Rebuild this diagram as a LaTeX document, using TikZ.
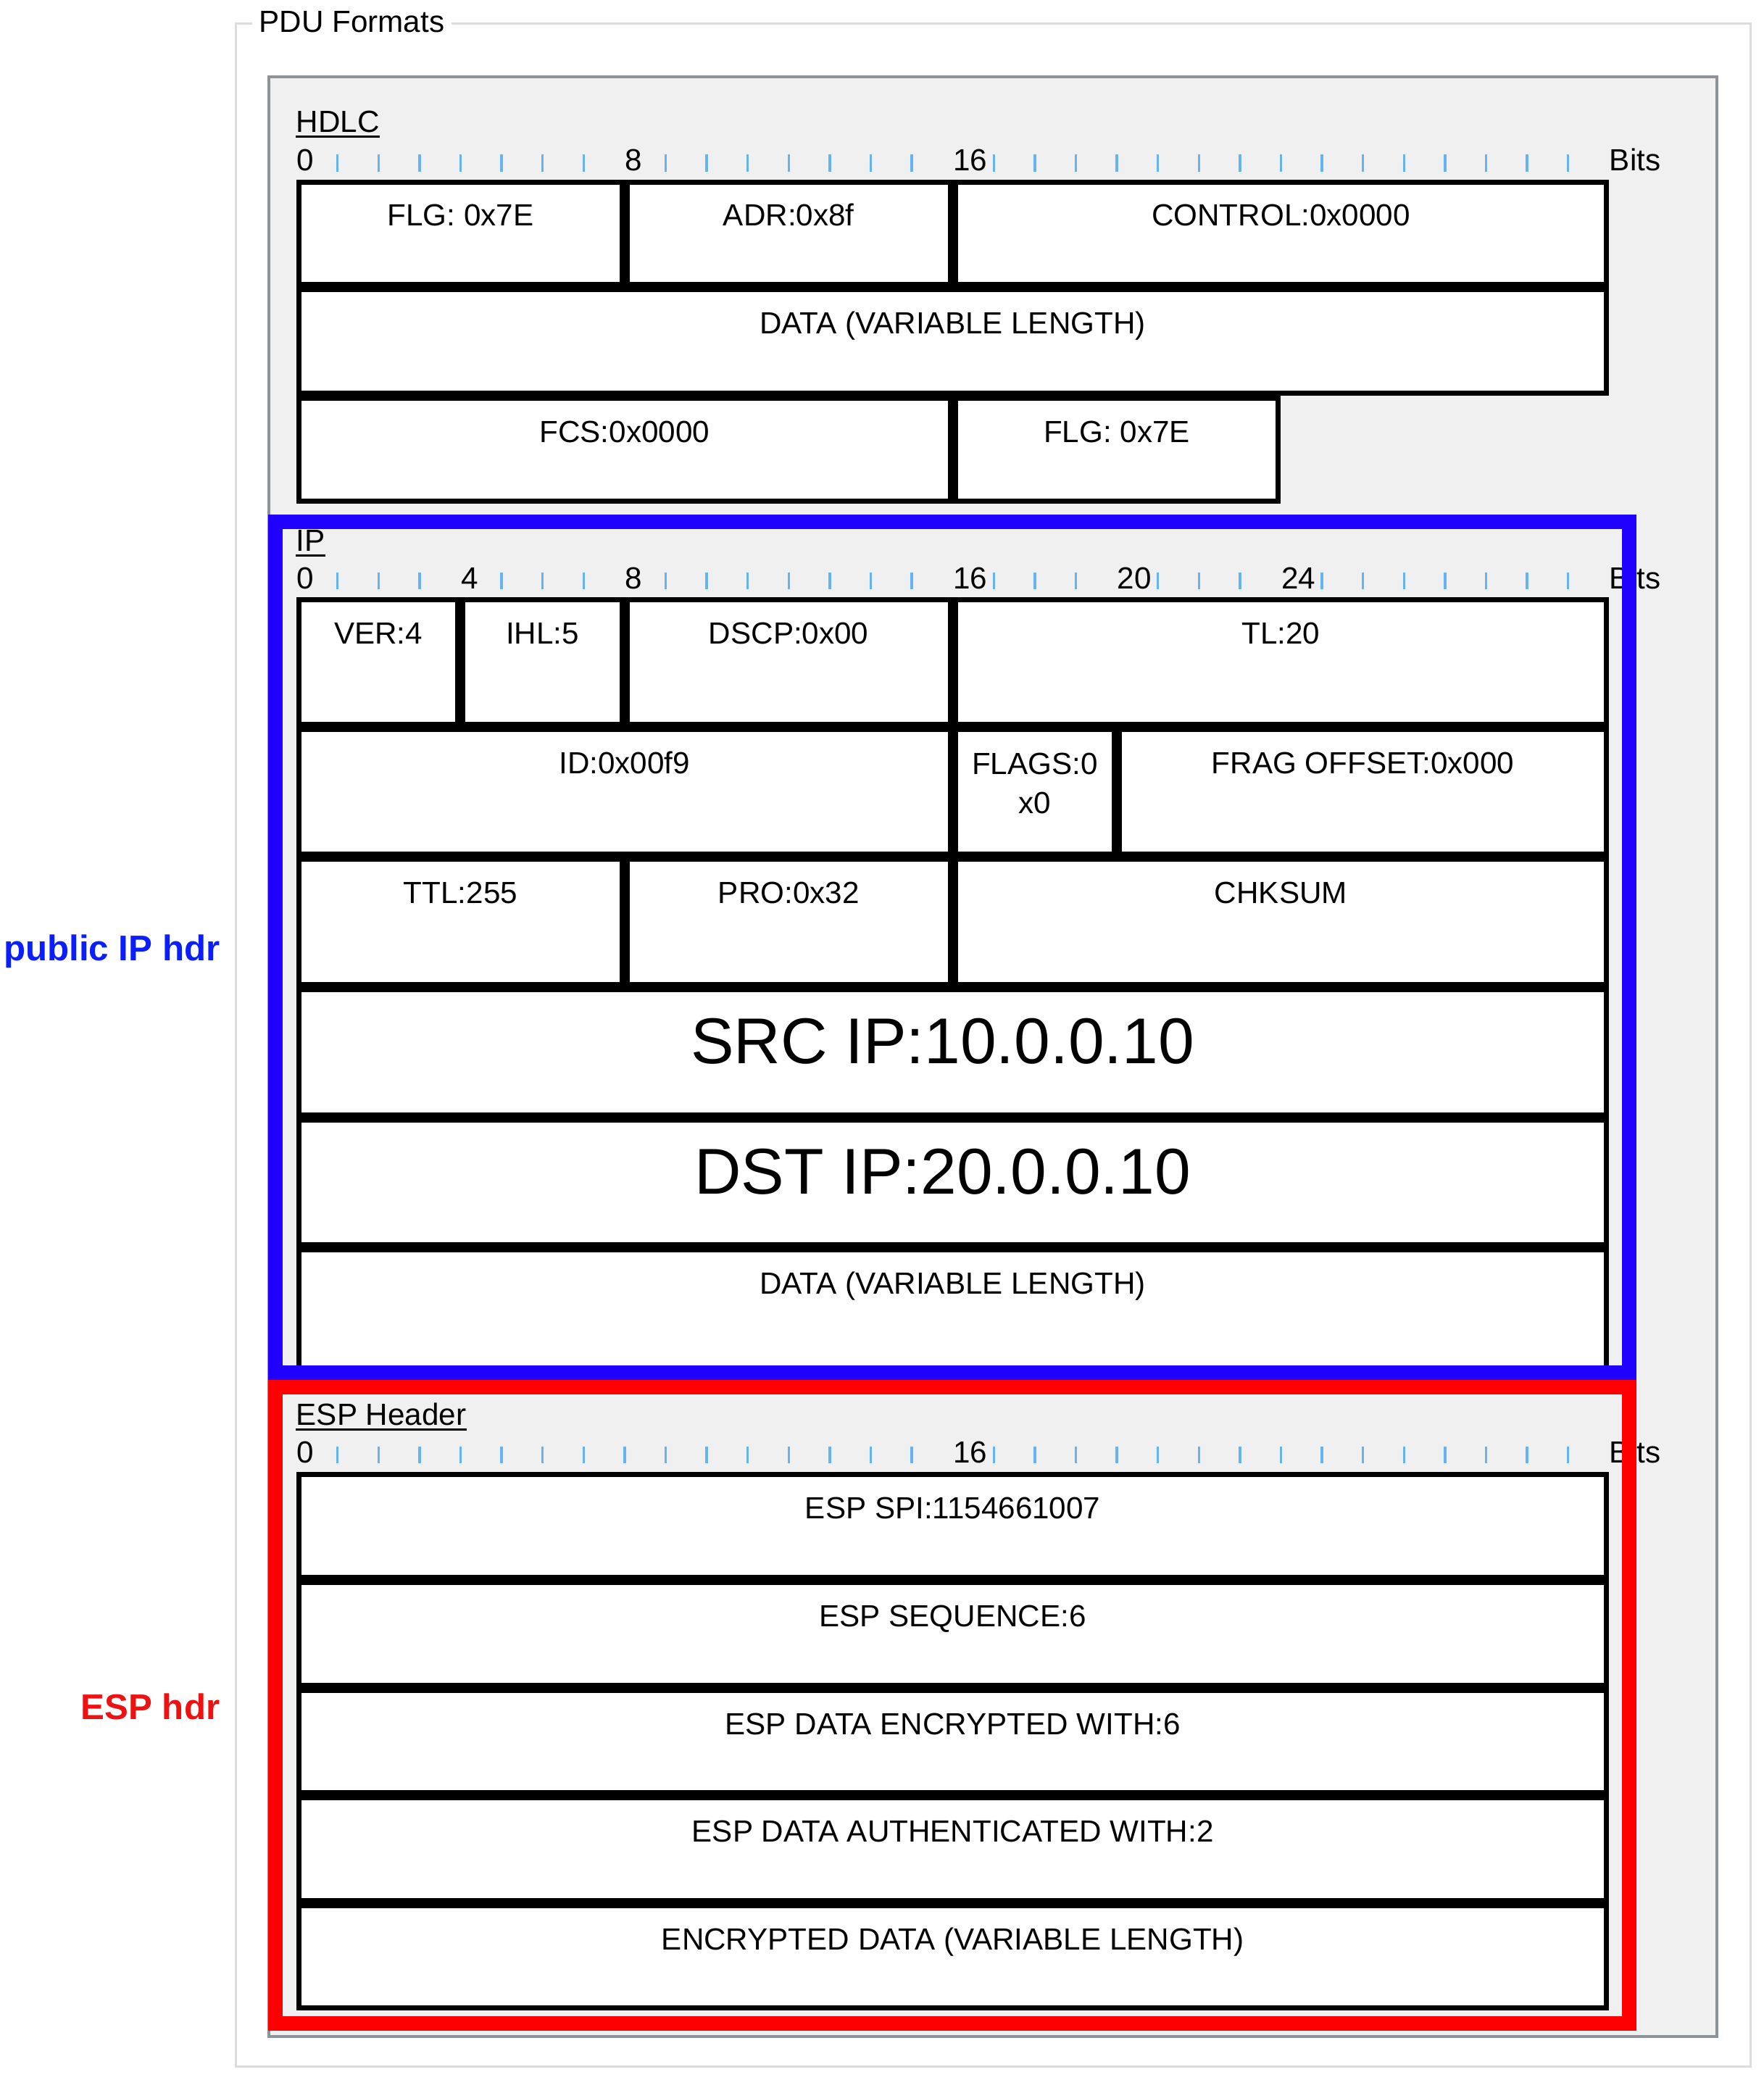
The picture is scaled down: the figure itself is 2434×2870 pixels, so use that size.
\documentclass[tikz,border=0pt]{standalone}
\usepackage{fontspec}
\setmainfont{Liberation Sans}
\usetikzlibrary{calc}
\definecolor{panelgray}{HTML}{F0F0F0}
\definecolor{paneledge}{HTML}{8E939A}
\definecolor{grouplight}{HTML}{DCDCDC}
\definecolor{tickblue}{HTML}{66B3F2}
\definecolor{ipblue}{HTML}{2000FF}
\definecolor{espred}{HTML}{FF0000}
\definecolor{lblblue}{HTML}{0A1EFF}
\definecolor{lblred}{HTML}{EE1111}

\tikzset{
  field/.style={draw=black, fill=white, line width=0.07cm},
  fieldtxt/.style={anchor=base, inner sep=0pt, font=\fontsize{12}{15.4}\selectfont},
  bigtxt/.style={anchor=base, inner sep=0pt, font=\fontsize{25.4}{30}\selectfont},
  rulenum/.style={anchor=base west, inner sep=0pt, font=\fontsize{12}{14}\selectfont},
  ruletick/.style={tickblue, line width=0.034cm},
  secttitle/.style={anchor=base west, inner sep=0pt, font=\fontsize{12}{14}\selectfont},
  uline/.style={line width=0.03cm},
  hilite/.style={line width=0.2cm},
  sidelabel/.style={anchor=base east, inner sep=0pt, font=\fontsize{14}{17}\selectfont\bfseries},
}

\begin{document}
\begin{tikzpicture}[x=0.01cm, y=-0.01cm, declare function={bx(\b)=409+56.6*\b;}]
  \useasboundingbox (0,0) rectangle (2434,2870);

  % Group box and inner panel
  \draw[grouplight, line width=0.03cm] (325,33) rectangle (2415,2851);
  \node[secttitle, fill=white, inner xsep=0.1cm] (title) at (347,45) {PDU Formats};
  \draw[paneledge, fill=panelgray, line width=0.04cm] (371,106) rectangle (2369,2810);

  % HDLC
  \node[secttitle] (hdlc) at (408,183) {HDLC};
  \draw[uline] ($(hdlc.base west)+(0,6)$) -- ($(hdlc.base east)+(0,6)$);
  \foreach \b in {0,8,16}
    \node[rulenum] (hdlc-n\b) at ({bx(\b)},236) {\b};
  \foreach \b in {1,2,3,4,5,6,7,9,10,11,12,13,14,15,17,18,19,20,21,22,23,24,25,26,27,28,29,30,31}
    \draw[ruletick] ({bx(\b)},213) -- ({bx(\b)},237);
  \node[rulenum] (hdlc-bits) at ({bx(32)},236) {Bits};
  \foreach \a/\b/\ya/\yb/\nm/\txt in {
      0/8/248/396/flg-a/{FLG: 0x7E}, 8/16/248/396/adr/{ADR:0x8f},
      16/32/248/396/ctrl/{CONTROL:0x0000},
      0/32/396/546/hdata/{DATA (VARIABLE LENGTH)},
      0/16/546/695/fcs/{FCS:0x0000}, 16/24/546/695/flg-b/{FLG: 0x7E}}{
    \draw[field] ({bx(\a)+3.5},\ya+3.5) rectangle ({bx(\b)-3.5},\yb-3.5);
    \node[fieldtxt] (\nm) at ({bx((\a+\b)/2)},\ya+64) {\txt};
  }

  % IP
  \node[secttitle] (ip) at (408,760) {IP};
  \draw[uline] ($(ip.base west)+(0,6)$) -- ($(ip.base east)+(0,6)$);
  \foreach \b in {0,4,8,16,20,24}
    \node[rulenum] (ip-n\b) at ({bx(\b)},812) {\b};
  \foreach \b in {1,2,3,5,6,7,9,10,11,12,13,14,15,17,18,19,21,22,23,25,26,27,28,29,30,31}
    \draw[ruletick] ({bx(\b)},790) -- ({bx(\b)},813);
  \node[rulenum] (ip-bits) at ({bx(32)},812) {Bits};
  \foreach \a/\b/\ya/\yb/\nm/\txt in {
      0/4/824/1003/ver/{VER:4}, 4/8/824/1003/ihl/{IHL:5},
      8/16/824/1003/dscp/{DSCP:0x00}, 16/32/824/1003/tl/{TL:20},
      0/16/1003/1182/id/{ID:0x00f9}, 20/32/1003/1182/frag/{FRAG OFFSET:0x000},
      0/8/1182/1362/ttl/{TTL:255}, 8/16/1182/1362/pro/{PRO:0x32},
      16/32/1182/1362/chk/{CHKSUM},
      0/32/1721/1900/idata/{DATA (VARIABLE LENGTH)}}{
    \draw[field] ({bx(\a)+3.5},\ya+3.5) rectangle ({bx(\b)-3.5},\yb-3.5);
    \node[fieldtxt] (\nm) at ({bx((\a+\b)/2)},\ya+64) {\txt};
  }
  \draw[field] ({bx(16)+3.5},1006.5) rectangle ({bx(20)-3.5},1178.5);
  \node[fieldtxt, anchor=north, align=center] (flags) at ({bx(18)},1038) {FLAGS:0\\x0};
  \foreach \ya/\yb/\nm/\txt in {1362/1542/src/{SRC IP:10.0.0.10}, 1542/1721/dst/{DST IP:20.0.0.10}}{
    \draw[field] ({bx(0)+3.5},\ya+3.5) rectangle ({bx(32)-3.5},\yb-3.5);
    \node[bigtxt] (\nm) at ({bx(16)-14},\ya+105) {\txt};
  }

  % ESP header
  \node[secttitle] (esp) at (408,1966) {ESP Header};
  \draw[uline] ($(esp.base west)+(0,6)$) -- ($(esp.base east)+(0,6)$);
  \foreach \b in {0,16}
    \node[rulenum] (esp-n\b) at ({bx(\b)},2018) {\b};
  \foreach \b in {1,2,3,4,5,6,7,8,9,10,11,12,13,14,15,17,18,19,20,21,22,23,24,25,26,27,28,29,30,31}
    \draw[ruletick] ({bx(\b)},1996) -- ({bx(\b)},2019);
  \node[rulenum] (esp-bits) at ({bx(32)},2018) {Bits};
  \foreach \ya/\yb/\nm/\txt in {
      2031/2180/spi/{ESP SPI:1154661007}, 2180/2329/seq/{ESP SEQUENCE:6},
      2329/2477/enc/{ESP DATA ENCRYPTED WITH:6},
      2477/2626/auth/{ESP DATA AUTHENTICATED WITH:2},
      2626/2774/edata/{ENCRYPTED DATA (VARIABLE LENGTH)}}{
    \draw[field] ({bx(0)+3.5},\ya+3.5) rectangle ({bx(32)-3.5},\yb-3.5);
    \node[fieldtxt] (\nm) at ({bx(16)},\ya+64) {\txt};
  }

  % Highlight frames
  \draw[ipblue, hilite] (379.5,720) rectangle (2248,1894);
  \draw[espred, hilite] (379.5,1914) rectangle (2248,2792);
  \node[sidelabel, lblblue] (iphdr) at (304,1325) {public IP hdr};
  \node[sidelabel, lblred] (esphdr) at (304,2372) {ESP hdr};
\end{tikzpicture}
\end{document}
